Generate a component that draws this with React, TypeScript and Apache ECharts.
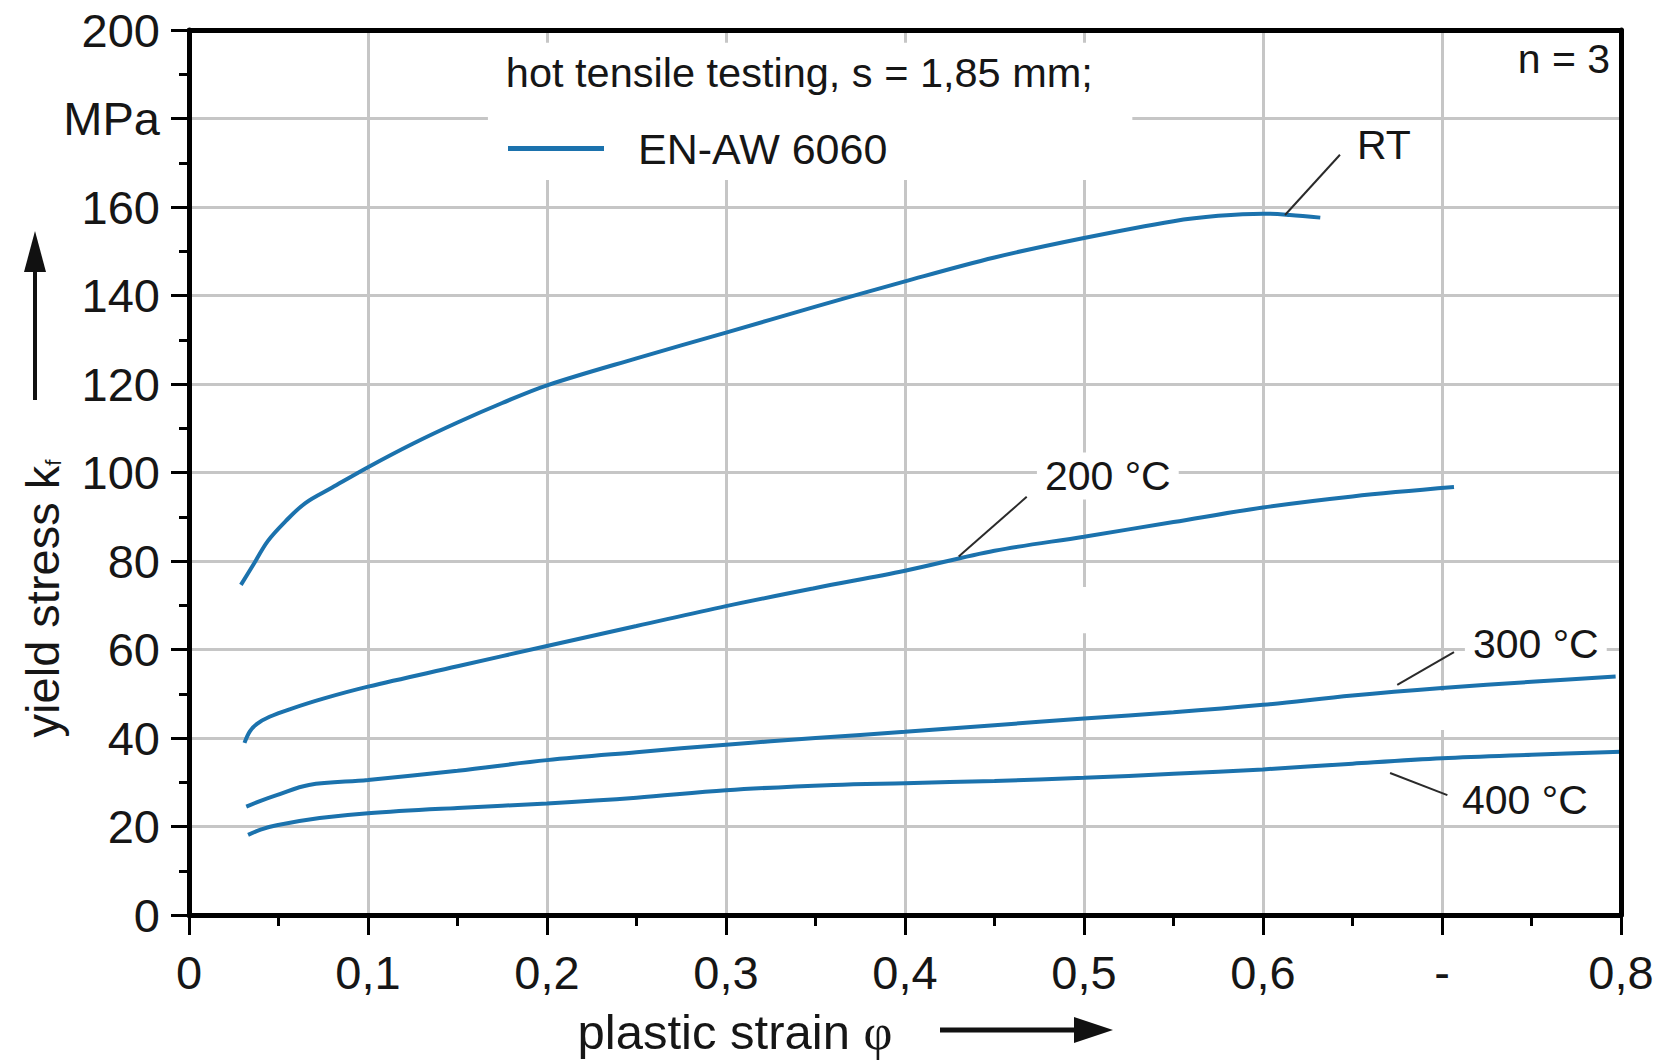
import React, { useEffect, useRef } from 'react';
import * as echarts from 'echarts';

// ---------- data (plastic strain φ, yield stress kf in MPa) ----------
const strainRT = [0.029, 0.036, 0.044, 0.054, 0.065, 0.08, 0.1, 0.125, 0.15, 0.175, 0.2, 0.25, 0.3, 0.35, 0.4, 0.45, 0.5, 0.55, 0.575, 0.6, 0.615, 0.632];
const stressRT = [74.6, 79.2, 84.5, 89.0, 93.1, 96.6, 101.2, 106.5, 111.3, 115.7, 119.7, 125.8, 131.6, 137.5, 143.2, 148.6, 153.0, 156.8, 158.0, 158.5, 158.2, 157.6];

const strain200 = [0.031, 0.034, 0.038, 0.045, 0.057, 0.075, 0.1, 0.15, 0.2, 0.25, 0.3, 0.35, 0.4, 0.45, 0.5, 0.55, 0.6, 0.65, 0.7067];
const stress200 = [38.9, 41.5, 43.2, 44.8, 46.6, 48.9, 51.6, 56.2, 60.8, 65.3, 69.8, 73.9, 77.8, 82.3, 85.5, 88.8, 92.1, 94.6, 96.7];

const strain300 = [0.032, 0.04, 0.049, 0.067, 0.1, 0.15, 0.2, 0.25, 0.3, 0.35, 0.4, 0.45, 0.5, 0.55, 0.6, 0.65, 0.7, 0.75, 0.797];
const stress300 = [24.5, 25.8, 27.1, 29.4, 30.5, 32.6, 35.0, 36.8, 38.5, 40.0, 41.4, 42.9, 44.4, 45.8, 47.5, 49.6, 51.3, 52.7, 53.9];

const strain400 = [0.033, 0.04, 0.049, 0.073, 0.1, 0.15, 0.2, 0.25, 0.3, 0.36, 0.4, 0.45, 0.5, 0.55, 0.6, 0.65, 0.7, 0.75, 0.8];
const stress400 = [18.1, 19.3, 20.3, 21.9, 23.0, 24.2, 25.2, 26.5, 28.2, 29.4, 29.8, 30.3, 31.0, 31.9, 32.9, 34.2, 35.4, 36.2, 36.9];

const xTickLabels = ['0', '0,1', '0,2', '0,3', '0,4', '0,5', '0,6', '-', '0,8'];
const yTickLabels = ['0', '20', '40', '60', '80', '100', '120', '140', '160', 'MPa', '200'];

const curveLabels = ['RT', '200 °C', '300 °C', '400 °C'];
const curveLabelAnchors = [[0.648, 174.0], [0.4737, 99.2], [0.7128, 61.2], [0.7067, 26.0]];
const leaderFrom = [[0.6123, 158.2], [0.430, 81.0], [0.675, 52.0], [0.671, 32.1]];
const leaderTo = [[0.643, 171.8], [0.468, 94.5], [0.7067, 59.4], [0.703, 27.1]];

const titleText = 'hot tensile testing, s = 1,85 mm;';
const legendName = 'EN-AW 6060';
const countText = 'n = 3';

const FONT = '"Liberation Sans", Arial, Helvetica, sans-serif';
const SERIF = '"Liberation Serif", "DejaVu Serif", serif';
const BLUE = '#1b72ad';
const INK = '#161616';

export default function App() {
  const ref = useRef<HTMLDivElement>(null);

  useEffect(() => {
    document.body.style.margin = '0';
    const chart = echarts.init(ref.current as HTMLDivElement, null, { renderer: 'svg' });

    const pairs = (xs: number[], ys: number[]) => xs.map((x, i) => [x, ys[i]]);
    const curves = [
      pairs(strainRT, stressRT),
      pairs(strain200, stress200),
      pairs(strain300, stress300),
      pairs(strain400, stress400),
    ];

    const series = curves.map((d, i) => ({
      name: legendName,
      type: 'line',
      data: d,
      showSymbol: false,
      smooth: 0.35,
      lineStyle: { color: BLUE, width: 4 },
      itemStyle: { color: BLUE },
      z: 3,
      markLine: {
        silent: true,
        symbol: 'none',
        label: { show: false },
        lineStyle: { color: '#2a2a2a', width: 2, type: 'solid' },
        data: [[{ coord: leaderFrom[i] }, { coord: leaderTo[i] }]],
      },
    }));

    const option: any = {
      animation: false,
      backgroundColor: '#ffffff',
      color: [BLUE],
      textStyle: { fontFamily: FONT, color: INK },
      grid: { left: 189, top: 30, right: 47, bottom: 147, containLabel: false, outerBoundsMode: 'none' },
      legend: {
        data: [legendName],
        left: 508,
        top: 127,
        padding: 0,
        icon: 'rect',
        itemWidth: 96,
        itemHeight: 5,
        textStyle: { fontFamily: FONT, fontSize: 43, color: INK, padding: [0, 0, 0, 29] },
      },
      xAxis: [
        {
          type: 'value',
          min: 0,
          max: 0.8,
          interval: 0.1,
          name: 'plastic strain {phi|φ}',
          nameLocation: 'middle',
          nameGap: 92,
          nameMoveOverlap: false,
          nameTextStyle: {
            fontFamily: FONT,
            fontSize: 49,
            color: INK,
            padding: [0, 340, 0, 0],
            rich: {
              phi: { fontFamily: SERIF, fontSize: 50, color: INK },
            },
          },
          axisLine: { show: true, lineStyle: { color: '#000', width: 5 } },
          axisTick: { show: true, inside: false, length: 20, lineStyle: { color: '#000', width: 3 } },
          minorTick: { show: true, splitNumber: 2, length: 11, lineStyle: { color: '#000', width: 3 } },
          axisLabel: {
            margin: 34,
            fontFamily: FONT,
            fontSize: 47,
            color: INK,
            formatter: (v: number) => xTickLabels[Math.round(v * 10)] ?? '',
          },
          splitLine: { show: true, lineStyle: { color: '#c6c6c6', width: 3 } },
          minorSplitLine: { show: false },
        },
        {
          type: 'value',
          position: 'top',
          min: 0,
          max: 0.8,
          z: 5,
          axisLine: { show: true, onZero: false, lineStyle: { color: '#000', width: 5 } },
          axisTick: { show: false },
          axisLabel: { show: false },
          splitLine: { show: false },
        },
      ],
      yAxis: [
        {
          type: 'value',
          min: 0,
          max: 200,
          interval: 20,
          name: 'yield stress {i|k}{s|f}',
          nameLocation: 'middle',
          nameRotate: 90,
          nameGap: 123,
          nameMoveOverlap: false,
          nameTextStyle: {
            fontFamily: FONT,
            fontSize: 47,
            color: INK,
            padding: [0, 252, 0, 0],
            rich: {
              i: { fontFamily: FONT, fontSize: 47, color: INK },
              s: { fontFamily: FONT, fontSize: 22, color: INK, padding: [22, 0, 0, 0] },
            },
          },
          axisLine: { show: true, lineStyle: { color: '#000', width: 5 } },
          axisTick: { show: true, inside: false, length: 18, lineStyle: { color: '#000', width: 3 } },
          minorTick: { show: true, splitNumber: 2, length: 10, lineStyle: { color: '#000', width: 3 } },
          axisLabel: {
            margin: 29,
            fontFamily: FONT,
            fontSize: 47,
            color: INK,
            formatter: (v: number) => yTickLabels[Math.round(v / 20)] ?? '',
          },
          splitLine: { show: true, lineStyle: { color: '#c6c6c6', width: 3 } },
        },
        {
          type: 'value',
          position: 'right',
          min: 0,
          max: 200,
          z: 5,
          axisLine: { show: true, onZero: false, lineStyle: { color: '#000', width: 5 } },
          axisTick: { show: false },
          axisLabel: { show: false },
          splitLine: { show: false },
        },
      ],
      series,
    };

    chart.setOption(option);

    const px = (p: number[]) => chart.convertToPixel({ xAxisIndex: 0, yAxisIndex: 0 }, p) as number[];
    const whiteBox = (x0: number, y0: number, x1: number, y1: number) => {
      const a = px([x0, y0]);
      const b = px([x1, y1]);
      return {
        type: 'rect',
        z: 1,
        silent: true,
        shape: { x: a[0], y: a[1], width: b[0] - a[0], height: b[1] - a[1] },
        style: { fill: '#ffffff' },
      };
    };

    const graphics: any[] = [];
    // white panel behind the header / legend block
    graphics.push(whiteBox(0.167, 197.1, 0.527, 166.1));
    // small gaps in the grid of the original figure
    graphics.push(whiteBox(0.49, 74.1, 0.51, 63.7));
    graphics.push(whiteBox(0.69, 50.6, 0.71, 41.8));

    const t = px([0.177, 190.5]);
    graphics.push({
      type: 'text',
      z: 20,
      x: t[0],
      y: t[1],
      style: { text: titleText, fontFamily: FONT, fontSize: 41.5, fill: INK, textAlign: 'left', textVerticalAlign: 'middle' },
    });
    const n = px([0.7939, 193.4]);
    graphics.push({
      type: 'text',
      z: 20,
      x: n[0],
      y: n[1],
      style: { text: countText, fontFamily: FONT, fontSize: 41, fill: INK, textAlign: 'right', textVerticalAlign: 'middle' },
    });
    curveLabels.forEach((lab, i) => {
      const p = px(curveLabelAnchors[i]);
      graphics.push({
        type: 'text',
        z: 20,
        x: p[0],
        y: p[1],
        style: {
          text: lab,
          fontFamily: FONT,
          fontSize: 41,
          fill: INK,
          textAlign: 'left',
          textVerticalAlign: 'middle',
          backgroundColor: '#ffffff',
          padding: [3, 8, 3, 8],
        },
      });
    });
    // axis direction arrows
    graphics.push({ type: 'line', z: 20, shape: { x1: 35, y1: 400, x2: 35, y2: 268 }, style: { stroke: '#111', lineWidth: 4 } });
    graphics.push({ type: 'polygon', z: 20, shape: { points: [[35, 231], [24, 272], [46, 272]] }, style: { fill: '#111' } });
    graphics.push({ type: 'line', z: 20, shape: { x1: 940, y1: 1030, x2: 1078, y2: 1030 }, style: { stroke: '#111', lineWidth: 5 } });
    graphics.push({ type: 'polygon', z: 20, shape: { points: [[1113, 1030], [1074, 1017], [1074, 1043]] }, style: { fill: '#111' } });

    chart.setOption({ graphic: graphics });

    return () => {
      chart.dispose();
    };
  }, []);

  return (
    <div
      ref={ref}
      style={{ position: 'fixed', left: 0, top: 0, width: 1668, height: 1062, background: '#ffffff' }}
    />
  );
}
